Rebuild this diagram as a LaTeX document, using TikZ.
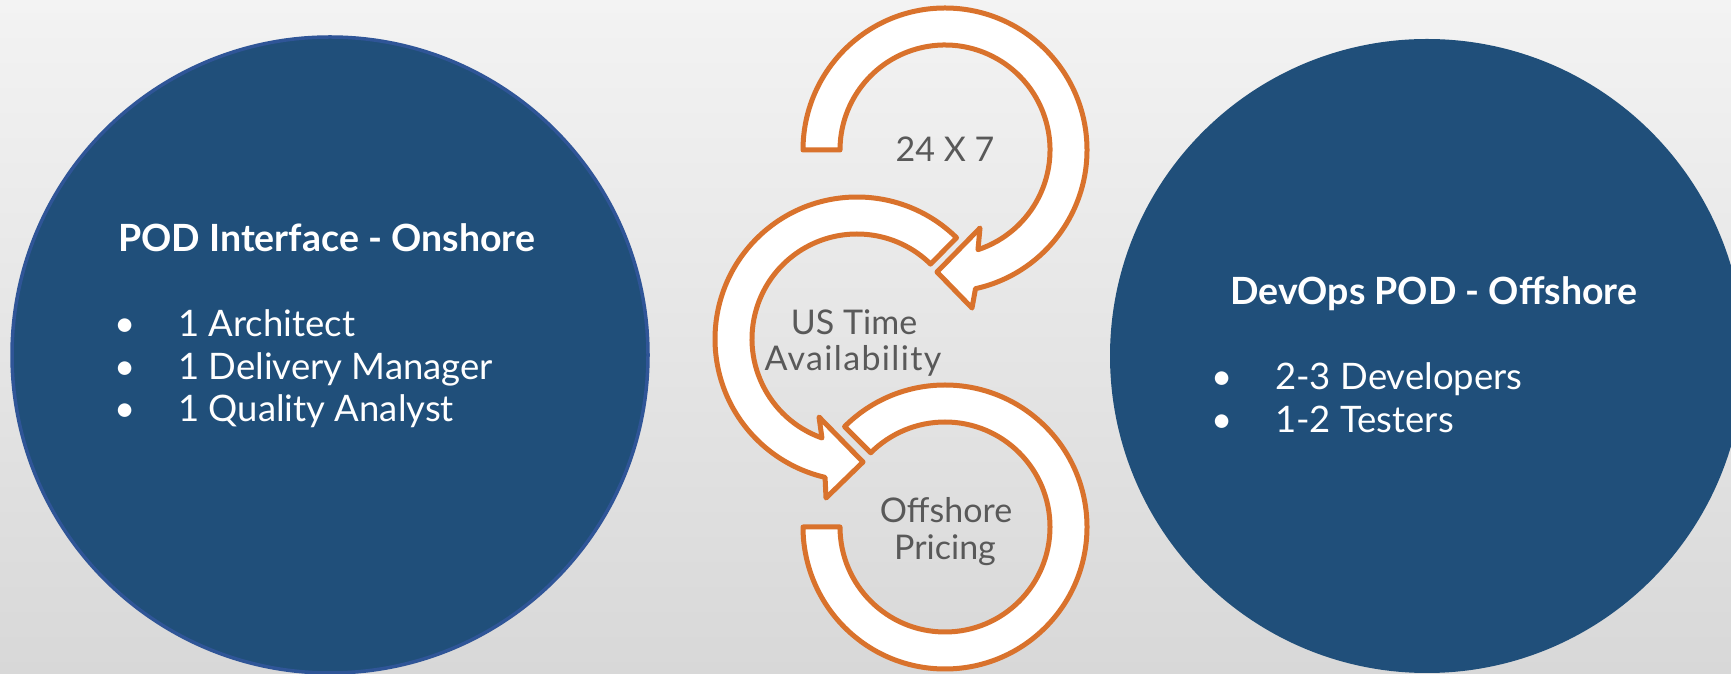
\documentclass[tikz,border=0pt]{standalone}
\usepackage{fontspec}
\setmainfont{Lato}
\usetikzlibrary{calc}
\definecolor{bgtop}{RGB}{243,243,243}
\definecolor{bgbot}{RGB}{216,216,216}
\definecolor{podblue}{RGB}{32,79,122}
\definecolor{podedge}{RGB}{47,85,151}
\definecolor{ringorange}{RGB}{217,114,44}
\definecolor{graytext}{RGB}{89,89,89}
\tikzset{
  pod/.style={circle, fill=podblue, inner sep=0pt, outer sep=0pt},
  ring/.style={fill=white, draw=ringorange, line width=5pt, line join=round},
  head/.style={text=white, inner sep=0pt, anchor=base west, font=\bfseries\fontsize{37.5}{42}\selectfont},
  item/.style={text=white, inner sep=0pt, anchor=base west, font=\fontsize{36.5}{42}\selectfont},
  dot/.style={text=white, inner sep=0pt, anchor=base, font=\fontsize{36.5}{42}\selectfont},
  lbl/.style={text=graytext, inner sep=0pt, anchor=base, font=\fontsize{34}{36}\selectfont}
}
\begin{document}
\begin{tikzpicture}[x=1pt, y=1pt]
\useasboundingbox (0,0) rectangle (1731,674);
\shade[top color=bgtop, bottom color=bgbot] (0,0) rectangle (1731,674);

% circles
\node[pod, draw=podedge, line width=3.5pt, minimum size=636pt] (left) at (330,319) {};
\node[pod, minimum size=634pt] (right) at (1427,318) {};

% left text
\node[head] (lh) at (118,422) {POD Interface - Onshore};
\node[dot] (lb1) at (125,337) {•};
\node[dot] (lb2) at (125,294) {•};
\node[dot] (lb3) at (125,252) {•};
\node[item] (li1) at (178,337) {1 Architect};
\node[item] (li2) at (178,294) {1 Delivery Manager};
\node[item] (li3) at (178,252) {1 Quality Analyst};

% right text
\node[head] (rh) at (1230,369) {DevOps POD - Offshore};
\node[dot] (rb1) at (1222,284) {•};
\node[dot] (rb2) at (1222,241) {•};
\node[item] (ri1) at (1275,284) {2-3 Developers};
\node[item] (ri2) at (1275,241) {1-2 Testers};

% ring centres
\coordinate (c1) at (945,524);
\coordinate (c2) at (857,335);
\coordinate (c3) at (945,147);

% top ring with arrow head
\draw[ring] ($(c1)+(180:142)$) arc[start angle=180, end angle=-77.6, radius=142]
  -- (972,366) -- (937,402) -- (980,446)
  -- ($(c1)+(-71.7:105)$) arc[start angle=-71.7, end angle=180, radius=105] -- cycle;

% middle ring with arrow head
\draw[ring] ($(c2)+(45.5:142)$) arc[start angle=45.5, end angle=257, radius=142]
  -- (826,176) -- (863,212) -- (819,257)
  -- ($(c2)+(250.5:105)$) arc[start angle=250.5, end angle=45.5, radius=105] -- cycle;

% bottom ring
\draw[ring] ($(c3)+(135:142)$) arc[start angle=135, end angle=-180, radius=142]
  -- ($(c3)+(180:105)$) arc[start angle=-180, end angle=135, radius=105] -- cycle;

% ring labels
\node[lbl] (t1) at (945,512) {24 X 7};
\node[lbl] (t2a) at (854,339) {US Time};
\node[lbl] (t2b) at (853,303) {\addfontfeature{LetterSpace=4}Availability};
\node[lbl] (t3a) at (946,151) {Offshore};
\node[lbl] (t3b) at (945,114) {Pricing};
\end{tikzpicture}
\end{document}
